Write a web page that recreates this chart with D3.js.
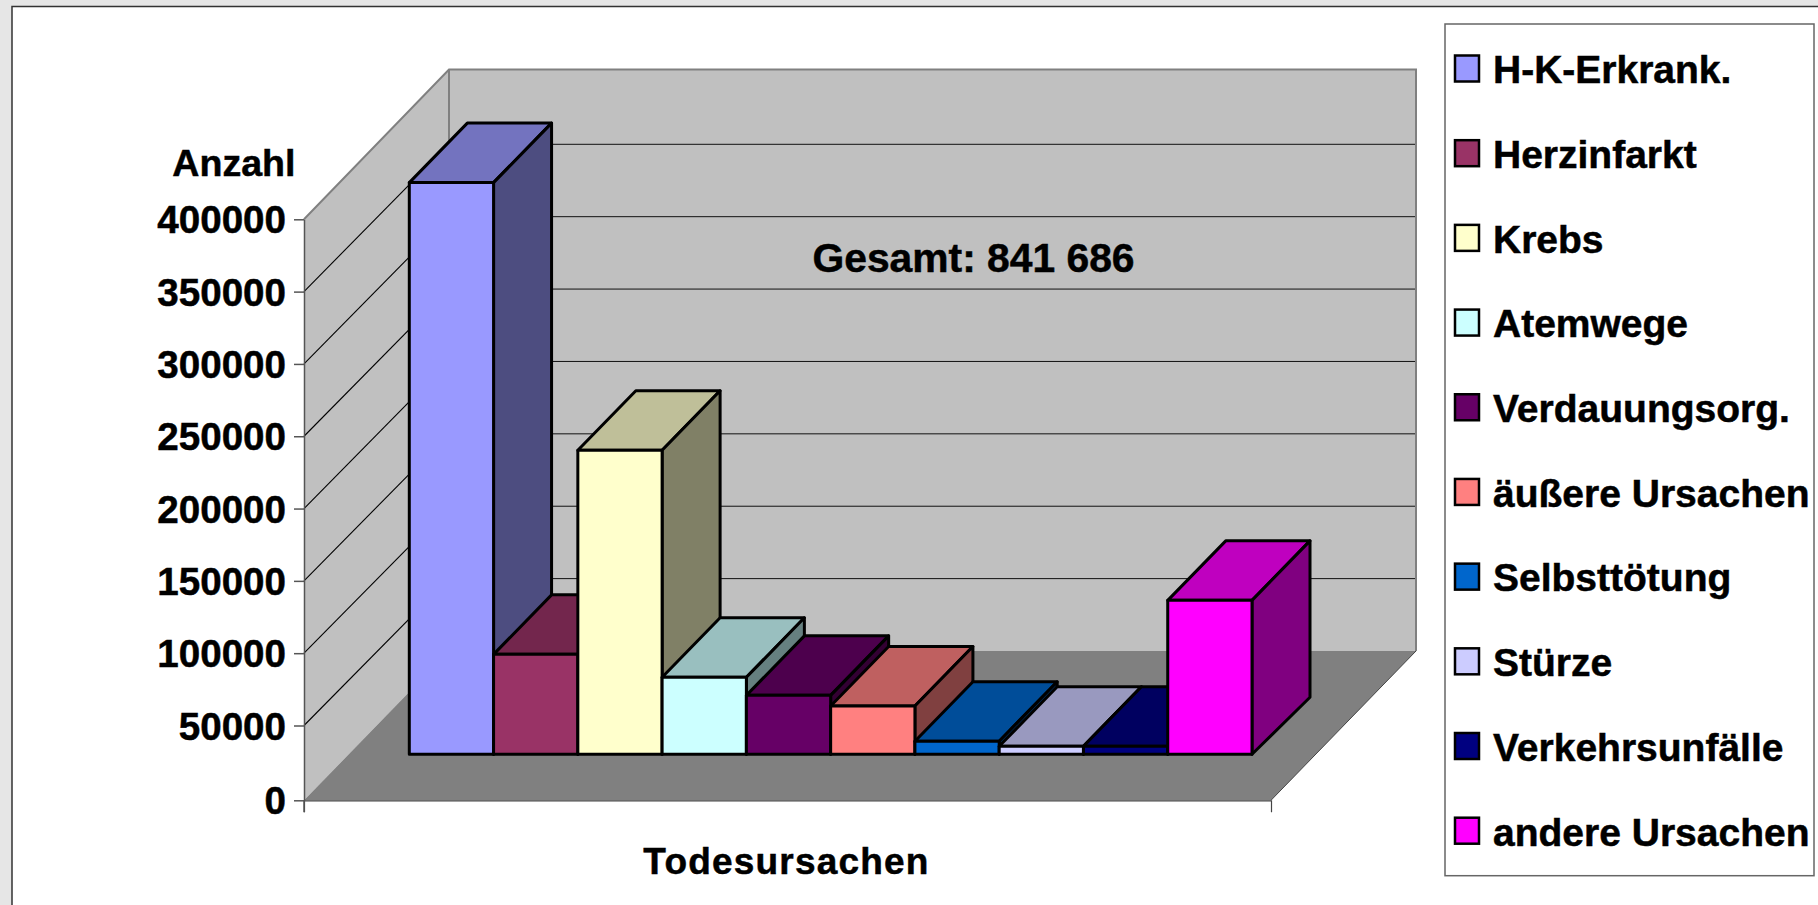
<!DOCTYPE html>
<html>
<head>
<meta charset="utf-8">
<script src="https://cdn.jsdelivr.net/npm/d3@7"></script>
<style>
  html, body { margin: 0; padding: 0; background: #e6e6e6; overflow: hidden; }
  svg { display: block; }
  text { font-family: "Liberation Sans", Arial, sans-serif; font-weight: bold; fill: #000; stroke: #000; stroke-width: 0.5px; }
</style>
</head>
<body>
<div id="chart"></div>
<script>
// data
const categories = ['H-K-Erkrank.', 'Herzinfarkt', 'Krebs', 'Atemwege', 'Verdauungsorg.',
  'äußere Ursachen', 'Selbsttötung', 'Stürze', 'Verkehrsunfälle', 'andere Ursachen'];
const values = [393600, 68800, 209300, 53000, 40600, 33200, 9000, 5500, 5500, 106000];
const colors = ['#9999ff', '#993366', '#ffffcc', '#ccffff', '#660066',
  '#ff8080', '#0066cc', '#ccccff', '#000080', '#ff00ff'];
const yTicks = [0, 50000, 100000, 150000, 200000, 250000, 300000, 350000, 400000];

const width = 1818;
const height = 905;

// the picture's wall is not quite even, the ends of the axes are a bit off
const yFront = d3.scaleLinear().domain([0, 50000, 400000]).range([800.3, 725.5, 219.3]);
const yBack = d3.scaleLinear().domain([0, 350000, 400000]).range([651, 144.3, 69.5]);
const xFloor = d3.scaleLinear().domain([0, 1]).range([304, 1271]);
const wallDepth = { x: 145, y: -150 };

const xBar = d3.scaleBand().domain(categories).range([409.3, 1252]);
const barHeight = d3.scaleLinear().domain([0, 400000]).range([0, 581]);
const barBase = 754.3;
const barDepth = { x: 58, top: 59.5, bottom: 57 };

const yLegend = d3.scalePoint().domain(categories).range([68.5, 830.7]);

const line = d3.line();

const svg = d3.select('#chart')
  .append('svg')
  .attr('width', width)
  .attr('height', height);

// white plot area with the dark top and left border
svg.append('rect')
  .attr('x', 12)
  .attr('y', 6.5)
  .attr('width', width)
  .attr('height', height)
  .attr('fill', '#fff')
  .attr('stroke', '#333')
  .attr('stroke-width', 1.5);

const backLeft = xFloor(0) + wallDepth.x;
const backRight = xFloor(1) + wallDepth.x;

// side wall, back wall, floor
svg.append('path')
  .attr('d', line([[xFloor(0), yFront(400000)], [backLeft, yBack(400000)],
    [backLeft, yBack(0)], [xFloor(0), yFront(0)]]) + 'Z')
  .attr('fill', '#c0c0c0');

svg.append('rect')
  .attr('x', backLeft)
  .attr('y', yBack(400000))
  .attr('width', backRight - backLeft)
  .attr('height', yBack(0) - yBack(400000))
  .attr('fill', '#c0c0c0');

svg.append('path')
  .attr('d', line([[xFloor(0), yFront(0)], [backLeft, yBack(0)],
    [backRight, yBack(0)], [xFloor(1), yFront(0)]]) + 'Z')
  .attr('fill', '#808080');

// grid lines on both walls
const inner = yTicks.slice(1, -1);

svg.append('g')
  .selectAll('line')
  .data(inner)
  .join('line')
  .attr('x1', backLeft)
  .attr('x2', backRight)
  .attr('y1', d => yBack(d))
  .attr('y2', d => yBack(d))
  .attr('stroke', '#111')
  .attr('stroke-width', 1);

svg.append('g')
  .selectAll('line')
  .data(inner)
  .join('line')
  .attr('x1', xFloor(0))
  .attr('x2', backLeft)
  .attr('y1', d => yFront(d))
  .attr('y2', d => yBack(d))
  .attr('stroke', '#000')
  .attr('stroke-width', 1.1);

// wall outline
svg.append('path')
  .attr('d', line([[xFloor(0), yFront(400000)], [backLeft, yBack(400000)],
    [backRight, yBack(400000)], [backRight, yBack(0)]]))
  .attr('fill', 'none')
  .attr('stroke', '#808080')
  .attr('stroke-width', 2);

svg.append('line')
  .attr('x1', xFloor(1))
  .attr('x2', backRight)
  .attr('y1', yFront(0))
  .attr('y2', yBack(0))
  .attr('stroke', '#444')
  .attr('stroke-width', 1);

svg.append('line')
  .attr('x1', backLeft)
  .attr('x2', backLeft)
  .attr('y1', yBack(400000))
  .attr('y2', yBack(0))
  .attr('stroke', '#808080')
  .attr('stroke-width', 2);

// axes
const yAxis = svg.append('g')
  .attr('transform', `translate(${xFloor(0)}, 0)`)
  .call(d3.axisLeft(yFront).tickValues(yTicks).tickSize(10).tickSizeOuter(0).tickPadding(8).tickFormat(d => d));

yAxis.select('.domain')
  .attr('stroke', '#555')
  .attr('stroke-width', 1.5);

yAxis.selectAll('.tick line')
  .attr('stroke', '#555')
  .attr('stroke-width', 1.5);

yAxis.selectAll('text')
  .style('font-size', '38.6px')
  .style('font-family', '"Liberation Sans", Arial, sans-serif')
  .style('font-weight', 'bold')
  .attr('fill', '#000')
  .attr('dy', '0.35em');

const xAxis = svg.append('g')
  .attr('transform', `translate(0, ${yFront(0)})`)
  .call(d3.axisBottom(xFloor).tickValues([]).tickSizeOuter(12));

xAxis.select('.domain')
  .attr('stroke', '#444')
  .attr('stroke-width', 1.2);

// the vertical below the zero tick
svg.append('line')
  .attr('x1', xFloor(0))
  .attr('x2', xFloor(0))
  .attr('y1', yFront(0))
  .attr('y2', yFront(0) + 12)
  .attr('stroke', '#555')
  .attr('stroke-width', 1.5);

svg.append('text')
  .attr('x', 295.5)
  .attr('y', 175.7)
  .attr('text-anchor', 'end')
  .style('font-size', '37.6px')
  .text('Anzahl');

svg.append('text')
  .attr('x', 973.5)
  .attr('y', 271.7)
  .attr('text-anchor', 'middle')
  .style('font-size', '40.8px')
  .text('Gesamt: 841 686');

svg.append('text')
  .attr('x', 786.5)
  .attr('y', 874)
  .attr('text-anchor', 'middle')
  .style('font-size', '37px')
  .style('letter-spacing', '1.2px')
  .text('Todesursachen');

// bars, left to right so the next one covers the one before
const bars = svg.append('g')
  .selectAll('g')
  .data(categories)
  .join('g')
  .attr('stroke', '#000')
  .attr('stroke-width', 3)
  .attr('stroke-linejoin', 'round');

bars.each(function (d, i) {
  const g = d3.select(this);
  const x0 = xBar(d);
  const x1 = x0 + xBar.bandwidth();
  const top = barBase - barHeight(values[i]);
  const base = d3.color(colors[i]);

  const shade = k => d3.rgb(base.r * k, base.g * k, base.b * k).formatHex();

  g.append('path')
    .attr('d', line([[x0, top], [x0 + barDepth.x, top - barDepth.top],
      [x1 + barDepth.x, top - barDepth.top], [x1, top]]) + 'Z')
    .attr('fill', shade(0.75));

  g.append('path')
    .attr('d', line([[x1, top], [x1 + barDepth.x, top - barDepth.top],
      [x1 + barDepth.x, barBase - barDepth.bottom], [x1, barBase]]) + 'Z')
    .attr('fill', shade(0.5));

  g.append('rect')
    .attr('x', x0)
    .attr('y', top)
    .attr('width', xBar.bandwidth())
    .attr('height', barBase - top)
    .attr('fill', colors[i]);
});

// legend
svg.append('rect')
  .attr('x', 1445)
  .attr('y', 24)
  .attr('width', 369)
  .attr('height', 851.7)
  .attr('fill', '#fff')
  .attr('stroke', '#666')
  .attr('stroke-width', 1.5);

const legend = svg.append('g')
  .selectAll('g')
  .data(categories)
  .join('g')
  .attr('transform', d => `translate(1454, ${yLegend(d)})`);

legend.append('rect')
  .attr('x', 1)
  .attr('y', -13)
  .attr('width', 24)
  .attr('height', 26)
  .attr('fill', (d, i) => colors[i])
  .attr('stroke', '#000')
  .attr('stroke-width', 2.5);

legend.append('text')
  .attr('x', 39)
  .attr('y', 14.8)
  .style('font-size', '39px')
  .text(d => d);
</script>
</body>
</html>
